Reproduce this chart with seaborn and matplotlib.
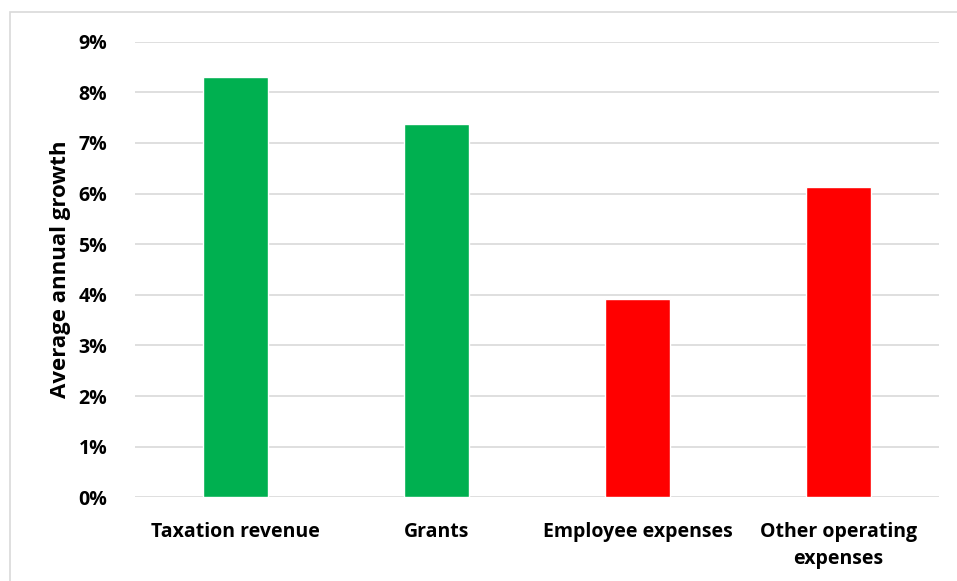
"""Average annual growth of revenue and expense categories."""
import pandas as pd
import matplotlib.pyplot as plt
import seaborn as sns
from matplotlib.patches import Rectangle
from matplotlib.ticker import FuncFormatter

GREEN = "#00b050"
RED = "#ff0000"

categories = ["Taxation revenue", "Grants", "Employee expenses", "Other operating\nexpenses"]
growth = [8.31, 7.38, 3.92, 6.13]
bar_colours = [GREEN, GREEN, RED, RED]
y_ticks = list(range(0, 10))


def main():
    sns.set_style("white")
    plt.rcParams["font.family"] = ["Open Sans", "DejaVu Sans"]
    plt.rcParams["font.weight"] = "bold"

    data = pd.DataFrame({"category": categories, "growth": growth})

    fig = plt.figure(figsize=(9.57, 5.81), dpi=100)
    ax = fig.add_axes([135 / 957, 1 - 497.3 / 581, 804 / 957, 455.6 / 581])

    sns.barplot(
        data=data,
        x="category",
        y="growth",
        hue="category",
        palette=bar_colours,
        saturation=1,
        width=0.32,
        legend=False,
        ax=ax,
    )

    ax.set_ylim(0, 9)
    ax.set_yticks(y_ticks)
    ax.yaxis.set_major_formatter(FuncFormatter(lambda v, _: "{:.0f}%".format(v)))
    ax.grid(axis="y", color="#d9d9d9", linewidth=1.2)
    ax.set_axisbelow(True)
    for side in ["top", "right", "left", "bottom"]:
        ax.spines[side].set_visible(False)
    ax.tick_params(axis="both", length=0, labelsize=14, colors="black")
    ax.tick_params(axis="y", pad=20)
    ax.tick_params(axis="x", pad=18)
    for label in ax.get_xticklabels() + ax.get_yticklabels():
        label.set_fontweight("bold")
        label.set_linespacing(1.45)

    ax.set_xlabel("")
    ax.set_ylabel("Average annual growth", fontsize=16, fontweight="bold", color="black")
    ax.yaxis.set_label_coords(-64 / 804, 0.5)

    fig.patches.append(Rectangle(
        (9.5 / 957, -0.1), 1.1, 1 - 12 / 581 + 0.1,
        transform=fig.transFigure, fill=False, edgecolor="#d9d9d9", linewidth=1.2,
    ))

    fig.savefig("out.png", dpi=100)


if __name__ == "__main__":
    main()
